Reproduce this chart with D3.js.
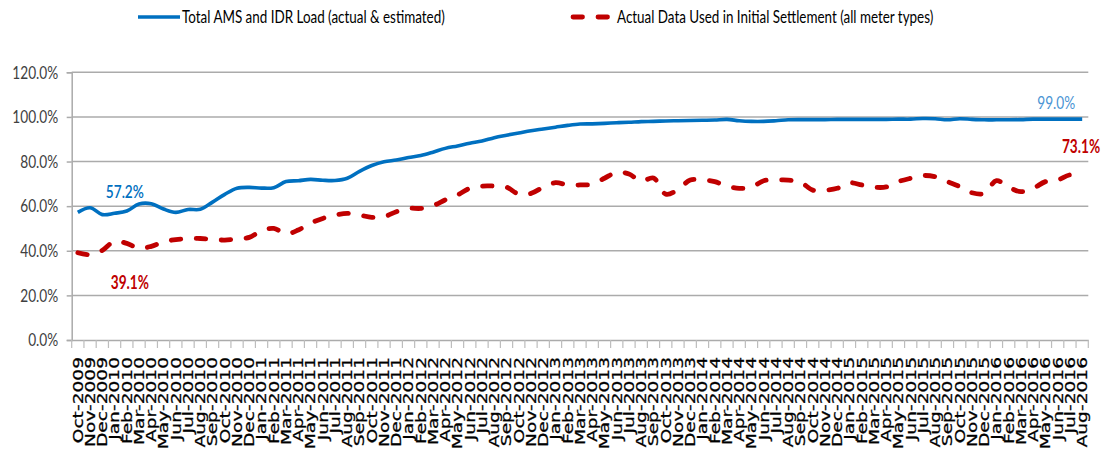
<!DOCTYPE html>
<html>
<head>
<meta charset="utf-8">
<script src="https://cdn.jsdelivr.net/npm/d3@7"></script>
<style>
  body { margin: 0; background: #fff; }
  svg { display: block; }
</style>
</head>
<body>
<div id="chart"></div>
<script>
// AMS / IDR load share vs actual data used in initial settlement

////////////////////////////////////////////////////////////////////////////////
// Data
const months = d3.timeMonths(new Date(2009, 9, 1), new Date(2016, 8, 1));
const monthLabels = months.map(d3.timeFormat('%b-%Y'));

const totalLoad = [
  57.2, 59.3, 56.2, 56.8, 57.8, 61.0, 61.1, 58.7, 57.2, 58.5,
  58.6, 61.8, 65.3, 68.0, 68.4, 68.1, 68.3, 71.0, 71.4, 72.0,
  71.6, 71.5, 72.5, 75.6, 78.2, 79.9, 80.7, 81.8, 82.7, 84.2,
  85.9, 87.0, 88.2, 89.2, 90.7, 91.8, 92.8, 93.8, 94.6, 95.4,
  96.2, 96.8, 96.9, 97.1, 97.4, 97.6, 97.9, 98.0, 98.2, 98.3,
  98.4, 98.5, 98.6, 98.9, 98.3, 98.0, 98.0, 98.3, 98.7, 98.8,
  98.8, 98.8, 98.9, 98.9, 98.9, 98.9, 98.9, 99.0, 99.0, 99.3,
  99.2, 98.7, 99.2, 98.9, 98.7, 98.7, 98.7, 98.8, 99.0, 99.0,
  99.0, 99.0, 99.0
];

const actualData = [
  39.1, 38.3, 40.2, 44.3, 43.3, 41.1, 42.0, 44.0, 45.0, 45.4,
  45.5, 45.1, 44.8, 45.4, 46.0, 49.0, 50.0, 47.6, 49.3, 52.4,
  54.5, 56.0, 56.8, 56.0, 55.0, 55.3, 57.5, 59.0, 59.0, 60.2,
  62.8, 65.0, 68.0, 69.0, 69.0, 68.5, 65.4, 65.7, 68.5, 70.5,
  69.5, 69.5, 69.9, 72.5, 75.2, 74.4, 71.2, 72.6, 65.4, 67.4,
  71.7, 71.7, 71.0, 69.0, 68.0, 68.5, 71.4, 71.7, 71.7, 70.8,
  67.2, 67.2, 68.0, 70.5, 69.5, 68.5, 68.6, 71.0, 72.5, 73.7,
  73.2, 71.0, 68.8, 66.0, 65.7, 71.4, 68.5, 66.5, 68.0, 71.0,
  71.7, 74.0, 73.1
];

const yTicks = [0, 20, 40, 60, 80, 100, 120];

const seriesNames = [
  'Total AMS and IDR Load (actual & estimated)',
  'Actual Data Used in Initial Settlement (all meter types)'
];

////////////////////////////////////////////////////////////////////////////////
// Setup
const width = 1104;
const height = 456;
const plot = { left: 71.7, right: 1088.3, top: 72.3, bottom: 340 };

const blue = '#0070c0';
const red = '#c00000';
const gridColor = '#ababab';
const textFont = 'Lato, "Liberation Sans", sans-serif';

const svg = d3.select('#chart').append('svg')
  .attr('width', width)
  .attr('height', height);

svg.append('rect')
  .attr('width', width)
  .attr('height', height)
  .attr('fill', '#fff');

const x = d3.scaleBand()
  .domain(monthLabels)
  .range([plot.left, plot.right])
  .padding(0);

const y = d3.scaleLinear()
  .domain([0, 120])
  .range([plot.bottom, plot.top]);

const cx = i => x(monthLabels[i]) + x.bandwidth() / 2;

// squeeze text horizontally around its anchor, the picture has narrow type
function squeeze (sel, k) {
  sel.each(function () {
    const t = d3.select(this);
    const tx = +t.attr('x') || 0;
    const ty = +t.attr('y') || 0;
    t.attr('x', 0)
      .attr('y', 0)
      .attr('transform', `translate(${tx},${ty}) scale(${k},1)`);
  });
}

////////////////////////////////////////////////////////////////////////////////
// Grid lines
svg.append('g')
  .selectAll('line')
  .data(yTicks.filter(d => d > 0))
  .enter()
    .append('line')
    .attr('x1', plot.left)
    .attr('x2', plot.right)
    .attr('y1', d => y(d))
    .attr('y2', d => y(d))
    .attr('stroke', gridColor)
    .attr('stroke-width', 1.5);

////////////////////////////////////////////////////////////////////////////////
// Axes
const yAxis = svg.append('g')
  .attr('transform', `translate(${plot.left},0)`)
  .call(d3.axisLeft(y)
    .tickValues(yTicks)
    .tickSize(5)
    .tickPadding(8.5)
    .tickFormat(d => d.toFixed(1) + '%'));

yAxis.select('.domain').attr('stroke', gridColor).attr('stroke-width', 1.5);
yAxis.selectAll('.tick line').attr('stroke', gridColor).attr('stroke-width', 1.5);
yAxis.selectAll('.tick text')
  .attr('font-family', textFont)
  .attr('font-size', 18)
  .attr('fill', '#404040')
  .call(squeeze, 0.76);

const xAxis = svg.append('g')
  .attr('transform', `translate(0,${plot.bottom})`)
  .call(d3.axisBottom(x).tickSize(0).tickSizeOuter(0));

xAxis.select('.domain').attr('stroke', gridColor).attr('stroke-width', 1.5);
xAxis.selectAll('.tick text')
  .attr('x', 0)
  .attr('y', 0)
  .attr('dy', '0.36em')
  .attr('text-anchor', 'end')
  .attr('transform', 'translate(0,17) rotate(-90) scale(1.38,1)')
  .attr('font-family', '"DejaVu Sans", sans-serif')
  .attr('font-size', 13.5)
  .attr('stroke', '#000')
  .attr('stroke-width', 0.25)
  .attr('fill', '#000');

// category boundary ticks, Excel style
xAxis.append('g')
  .selectAll('line')
  .data(monthLabels.map(m => x(m)).concat([plot.right]))
  .enter()
    .append('line')
    .attr('x1', d => d)
    .attr('x2', d => d)
    .attr('y1', 0)
    .attr('y2', 8)
    .attr('stroke', '#bdbdbd')
    .attr('stroke-width', 1.2);

////////////////////////////////////////////////////////////////////////////////
// Lines
const line = d3.line()
  .x((d, i) => cx(i))
  .y(d => y(d))
  .curve(d3.curveCatmullRom.alpha(0.5));

svg.append('path')
  .datum(totalLoad)
  .attr('fill', 'none')
  .attr('stroke', blue)
  .attr('stroke-width', 3.6)
  .attr('stroke-linejoin', 'round')
  .attr('d', line);

svg.append('path')
  .datum(actualData)
  .attr('fill', 'none')
  .attr('stroke', red)
  .attr('stroke-width', 4.8)
  .attr('stroke-linecap', 'round')
  .attr('stroke-dasharray', '9.5,15.5')
  .attr('d', line);

////////////////////////////////////////////////////////////////////////////////
// Value labels
const last = totalLoad.length - 1;
const labels = [
  { text: totalLoad[0].toFixed(1) + '%', i: 0, v: totalLoad[0], dx: 47, dy: -21, color: blue, weight: 600, anchor: 'middle' },
  { text: actualData[0].toFixed(1) + '%', i: 0, v: actualData[0], dx: 52, dy: 30, color: red, weight: 700, anchor: 'middle' },
  { text: totalLoad[last].toFixed(1) + '%', i: last, v: totalLoad[last], dx: -7, dy: -16, color: '#4a94d4', weight: 400, anchor: 'end' },
  { text: actualData[last].toFixed(1) + '%', i: last, v: actualData[last], dx: 18, dy: -30, color: red, weight: 700, anchor: 'end' },
];

svg.append('g')
  .selectAll('text')
  .data(labels)
  .enter()
    .append('text')
    .attr('x', d => cx(d.i) + d.dx)
    .attr('y', d => y(d.v) + d.dy)
    .attr('dy', '0.35em')
    .attr('text-anchor', d => d.anchor)
    .attr('font-family', textFont)
    .attr('font-size', 18)
    .attr('font-weight', d => d.weight)
    .attr('fill', d => d.color)
    .text(d => d.text)
    .call(squeeze, 0.76);

////////////////////////////////////////////////////////////////////////////////
// Legend
const legend = svg.append('g');
const legendItems = [
  { name: seriesNames[0], x: 138, color: blue, dash: null, w: 3.6 },
  { name: seriesNames[1], x: 573, color: red, dash: '9.5,15.5', w: 4.8 },
];

const item = legend.selectAll('g')
  .data(legendItems)
  .enter()
    .append('g')
    .attr('transform', d => `translate(${d.x},17)`);

item.append('line')
  .attr('x1', 0)
  .attr('x2', d => d.dash ? 36 : 42)
  .attr('stroke', d => d.color)
  .attr('stroke-width', d => d.w)
  .attr('stroke-linecap', d => d.dash ? 'round' : 'butt')
  .attr('stroke-dasharray', d => d.dash);

item.append('text')
  .attr('x', 44)
  .attr('dy', '0.35em')
  .attr('font-family', textFont)
  .attr('font-size', 17)
  .attr('fill', '#000')
  .text(d => d.name)
  .call(squeeze, 0.79);
</script>
</body>
</html>
